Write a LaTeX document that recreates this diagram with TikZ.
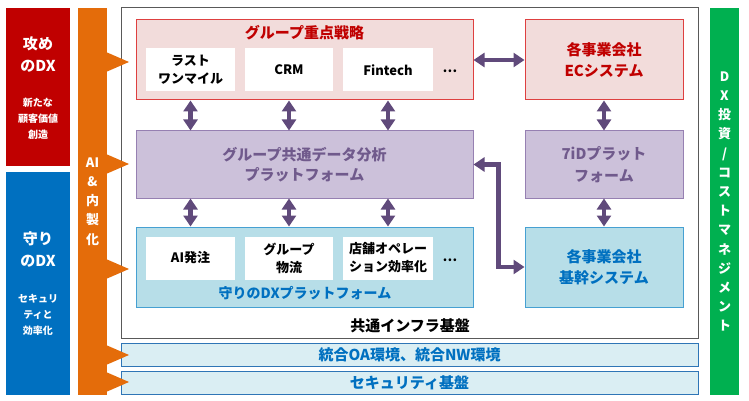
\documentclass[tikz,border=0pt]{standalone}
\usepackage{fontspec}
\setmainfont{Noto Sans CJK JP}
\usepackage{tikz}
\usetikzlibrary{calc}
\usetikzlibrary{arrows.meta}
\usetikzlibrary{positioning}

\definecolor{attackred}{RGB}{192,0,0}
\definecolor{guardblue}{RGB}{0,112,192}
\definecolor{aiorange}{RGB}{228,108,10}
\definecolor{mgmtgreen}{RGB}{0,176,80}
\definecolor{grpfill}{RGB}{242,220,219}
\definecolor{grpline}{RGB}{222,64,64}
\definecolor{pltfill}{RGB}{204,193,218}
\definecolor{pltline}{RGB}{150,128,178}
\definecolor{plttext}{RGB}{112,90,140}
\definecolor{arrowpurple}{RGB}{96,74,123}
\definecolor{dxpfill}{RGB}{183,222,232}
\definecolor{dxpline}{RGB}{70,160,210}
\definecolor{infrafill}{RGB}{218,238,243}
\definecolor{infraline}{RGB}{46,117,182}

\begin{document}
\begin{tikzpicture}[x=1pt, y=-1pt,
	sidebar/.style={fill, inner sep=0pt, minimum width=64pt},
	vbar/.style={inner sep=0pt, minimum width=29pt, minimum height=387pt, text=white, align=center,
		font=\fontsize{13}{19.2}\selectfont\bfseries},
	bigwhite/.style={text=white, align=center, font=\fontsize{15}{22}\selectfont\bfseries},
	smallwhite/.style={text=white, align=center, font=\fontsize{10}{16}\selectfont\bfseries},
	layer/.style={draw, line width=1pt, inner sep=0pt, minimum width=337pt},
	sysbox/.style={draw, line width=1pt, inner sep=0pt, minimum width=158pt, align=center,
		font=\fontsize{15}{21.5}\selectfont\bfseries},
	item/.style={fill=white, inner sep=0pt, minimum height=43pt, align=center,
		font=\fontsize{13}{18}\selectfont\bfseries},
	dots/.style={font=\fontsize{13}{13}\selectfont\bfseries},
	infrabar/.style={draw=infraline, fill=infrafill, line width=1pt, inner sep=0pt, minimum width=577pt,
		minimum height=23pt, text=guardblue, font=\fontsize{15}{15}\selectfont\bfseries},
	dbl/.style={{Triangle[width=14pt,length=11pt]}-{Triangle[width=14pt,length=11pt]},
		line width=4.5pt, draw=arrowpurple}]
	\useasboundingbox (0,0) rectangle (749,401);

	% left column
	\node (attack) [sidebar, attackred, minimum height=158pt] at (38,87) {};
	\node (attacktxt) [bigwhite] at (38,54) {攻め\\のDX};
	\node (attacksub) [smallwhite] at (38,119) {新たな\\顧客価値\\創造};
	\node (guard) [sidebar, guardblue, minimum height=223pt] at (38,283.5) {};
	\node (guardtxt) [bigwhite] at (38,249.5) {守り\\のDX};
	\node (guardsub) [smallwhite] at (38,315) {セキュリ\\ティと\\効率化};

	% marco infra
	\node (infra) [draw=black!65, line width=1pt, inner sep=0pt, minimum width=577pt, minimum height=330pt] at (409.5,173) {};

	% grupo
	\node (grp) [layer, draw=grpline, fill=grpfill, minimum height=80pt] at (304.5,60) {};
	\node (grptitle) [text=attackred, font=\fontsize{15}{15}\selectfont\bfseries] at (304.5,33) {グループ重点戦略};
	\node (wlm) [item, minimum width=89pt] at (190.5,70) {ラスト\\ワンマイル};
	\node (wcrm) [item, minimum width=88pt] at (289,70) {CRM};
	\node (wfin) [item, minimum width=90pt] at (388,70) {Fintech};
	\node (dotsa) [dots] at (450,71) {…};

	\node (common) [layer, draw=pltline, fill=pltfill, minimum height=67pt, text=plttext, align=center,
		font=\fontsize{15}{20}\selectfont\bfseries] at (304.5,164.5) {グループ共通データ分析\\プラットフォーム};

	\node (dxp) [layer, draw=dxpline, fill=dxpfill, minimum height=80pt] at (304.5,267) {};
	\node (wai) [item, minimum width=89pt] at (190.5,258) {AI発注};
	\node (wlog) [item, minimum width=88pt] at (289,258) {グループ\\物流};
	\node (wops) [item, minimum width=90pt] at (388,258) {店舗オペレー\\ション効率化};
	\node (dotsb) [dots] at (450,260) {…};
	\node (dxptitle) [text=guardblue, font=\fontsize{14}{14}\selectfont\bfseries] at (305,293) {守りのDXプラットフォーム};
	\node (infratxt) [anchor=north east, font=\fontsize{15}{15}\selectfont\bfseries] at ([yshift=-8pt]dxp.south east) {共通インフラ基盤};

	% columna derecha
	\node (ec) [sysbox, draw=grpline, fill=grpfill, text=attackred, minimum height=80pt] at (604,60) {各事業会社\\ECシステム};
	\node (id7) [sysbox, draw=pltline, fill=pltfill, text=plttext, minimum height=67pt] at (604,164.5) {7iDプラット\\フォーム};
	\node (core) [sysbox, draw=dxpline, fill=dxpfill, text=guardblue, minimum height=80pt] at (604,267) {各事業会社\\基幹システム};

	% flechas
	\foreach \w in {wlm,wcrm,wfin}
		\draw [dbl] (grp.south -| \w) -- (common.north -| \w);
	\foreach \w in {wai,wlog,wops}
		\draw [dbl] (common.south -| \w) -- (dxp.north -| \w);
	\draw [dbl] (grp.east) -- (ec.west);
	\draw [dbl] (ec) -- (id7);
	\draw [dbl] (id7) -- (core);
	\draw [dbl] (common.east) -- ++(25,0) |- (core.west);

	% barras inferiores
	\node (oabar) [infrabar] at (409.5,354.5) {統合OA環境、統合NW環境};
	\node (secbar) [infrabar] at (409.5,382.5) {セキュリティ基盤};

	% barra naranja y verde
	\node (aibar) [vbar, fill=aiorange] at (92.5,201.5) {AI\\\&\\内\\製\\化};
	\foreach \y in {62,164,269,355,382}
		\fill [aiorange] (106,{\y-10}) -- (129,\y) -- (106,{\y+10}) -- cycle;
	\node (mgmt) [vbar, fill=mgmtgreen] at (724.5,201.5) {D\\X\\投\\資\\/\\コ\\ス\\ト\\マ\\ネ\\ジ\\メ\\ン\\ト};

\end{tikzpicture}
\end{document}
